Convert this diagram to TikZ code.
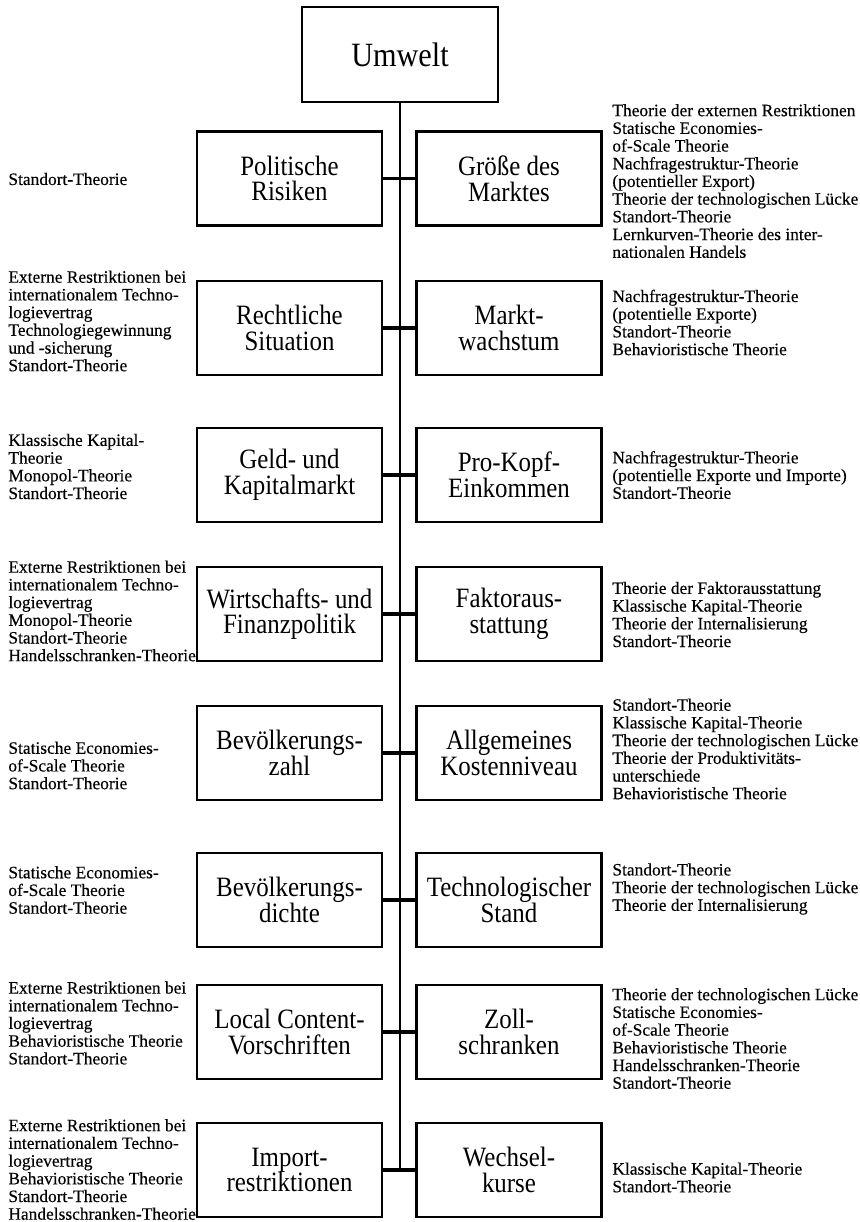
\documentclass[tikz,border=0pt]{standalone}
\usepackage{fontspec}
\setmainfont{Liberation Serif}
\newfontfamily\boxfont[FakeStretch=0.89]{Liberation Serif}
\newfontfamily\theoryfont[FakeBold=0.3]{Liberation Serif}

\begin{document}
\begin{tikzpicture}[x=0.5pt,y=-0.5pt]
		\tikzset{factorbox/.style={shape = rectangle, draw, line width = 1.4pt, minimum width = 92.5pt, minimum height = 47pt, inner sep = 0pt, align = center, font = \boxfont\fontsize{14}{12.8}\selectfont}}
		\tikzset{envbox/.style={factorbox, minimum width = 98pt, minimum height = 47.5pt, font = \boxfont\fontsize{17}{18}\selectfont}}
		\tikzset{theory/.style={anchor = west, inner sep = 0pt, align = left, font = \theoryfont\fontsize{8.7}{8.85}\selectfont}}
		\tikzset{trunk/.style={line width = 1pt}}
		\tikzset{branch/.style={line width = 1.6pt}}
		\useasboundingbox (0, 0) rectangle (860, 1222);
		%boxes
		\node[envbox] (umwelt) at (400, 54.5) {Umwelt};
		\node[factorbox] (polit) at (289.5, 178.5) {Politische\\Risiken};
		\node[factorbox] (groesse) at (509, 178.5) {Größe des\\Marktes};
		\node[factorbox] (recht) at (289.5, 328) {Rechtliche\\Situation};
		\node[factorbox] (wachstum) at (509, 328) {Markt-\\wachstum};
		\node[factorbox] (geld) at (289.5, 475) {Geld- und\\Kapitalmarkt};
		\node[factorbox] (prokopf) at (509, 475) {Pro-Kopf-\\Einkommen};
		\node[factorbox] (wipo) at (289.5, 614) {Wirtschafts- und\\Finanzpolitik};
		\node[factorbox] (faktor) at (509, 614) {Faktoraus-\\stattung};
		\node[factorbox] (bevzahl) at (289.5, 753) {Bevölkerungs-\\zahl};
		\node[factorbox] (kosten) at (509, 753) {Allgemeines\\Kostenniveau};
		\node[factorbox] (bevdichte) at (289.5, 900) {Bevölkerungs-\\dichte};
		\node[factorbox] (techstand) at (509, 900) {Technologischer\\Stand};
		\node[factorbox] (content) at (289.5, 1032) {Local Content-\\Vorschriften};
		\node[factorbox] (zoll) at (509, 1032) {Zoll-\\schranken};
		\node[factorbox] (import) at (289.5, 1170) {Import-\\restriktionen};
		\node[factorbox] (wechsel) at (509, 1170) {Wechsel-\\kurse};
		%theories
		\node[theory] (tpolit) at (8, 179) {Standort-Theorie};
		\node[theory] (tgroesse) at (612, 181) {Theorie der externen Restriktionen\\Statische Economies-\\of-Scale Theorie\\Nachfragestruktur-Theorie\\(potentieller Export)\\Theorie der technologischen Lücke\\Standort-Theorie\\Lernkurven-Theorie des inter-\\nationalen Handels};
		\node[theory] (trecht) at (8, 321) {Externe Restriktionen bei\\internationalem Techno-\\logievertrag\\Technologiegewinnung\\und -sicherung\\Standort-Theorie};
		\node[theory] (twachstum) at (612, 322.5) {Nachfragestruktur-Theorie\\(potentielle Exporte)\\Standort-Theorie\\Behavioristische Theorie};
		\node[theory] (tgeld) at (8, 466.5) {Klassische Kapital-\\Theorie\\Monopol-Theorie\\Standort-Theorie};
		\node[theory] (tprokopf) at (612, 475) {Nachfragestruktur-Theorie\\(potentielle Exporte und Importe)\\Standort-Theorie};
		\node[theory] (twipo) at (8, 611) {Externe Restriktionen bei\\internationalem Techno-\\logievertrag\\Monopol-Theorie\\Standort-Theorie\\Handelsschranken-Theorie};
		\node[theory] (tfaktor) at (612, 614.5) {Theorie der Faktorausstattung\\Klassische Kapital-Theorie\\Theorie der Internalisierung\\Standort-Theorie};
		\node[theory] (tbevzahl) at (8, 765.5) {Statische Economies-\\of-Scale Theorie\\Standort-Theorie};
		\node[theory] (tkosten) at (612, 749) {Standort-Theorie\\Klassische Kapital-Theorie\\Theorie der technologischen Lücke\\Theorie der Produktivitäts-\\unterschiede\\Behavioristische Theorie};
		\node[theory] (tbevdichte) at (8, 890) {Statische Economies-\\of-Scale Theorie\\Standort-Theorie};
		\node[theory] (ttechstand) at (612, 889) {Standort-Theorie\\Theorie der technologischen Lücke\\Theorie der Internalisierung};
		\node[theory] (tcontent) at (8, 1023) {Externe Restriktionen bei\\internationalem Techno-\\logievertrag\\Behavioristische Theorie\\Standort-Theorie};
		\node[theory] (tzoll) at (612, 1038.5) {Theorie der technologischen Lücke\\Statische Economies-\\of-Scale Theorie\\Behavioristische Theorie\\Handelsschranken-Theorie\\Standort-Theorie};
		\node[theory] (timport) at (8, 1169.5) {Externe Restriktionen bei\\internationalem Techno-\\logievertrag\\Behavioristische Theorie\\Standort-Theorie\\Handelsschranken-Theorie};
		\node[theory] (twechsel) at (612, 1177.5) {Klassische Kapital-Theorie\\Standort-Theorie};
		%lines
		\draw[trunk] (umwelt.south) -- (umwelt.south |- wechsel.west);
		\draw[branch] (polit.east) -- (groesse.west);
		\draw[branch] (recht.east) -- (wachstum.west);
		\draw[branch] (geld.east) -- (prokopf.west);
		\draw[branch] (wipo.east) -- (faktor.west);
		\draw[branch] (bevzahl.east) -- (kosten.west);
		\draw[branch] (bevdichte.east) -- (techstand.west);
		\draw[branch] (content.east) -- (zoll.west);
		\draw[branch] (import.east) -- (wechsel.west);
\end{tikzpicture}
\end{document}
